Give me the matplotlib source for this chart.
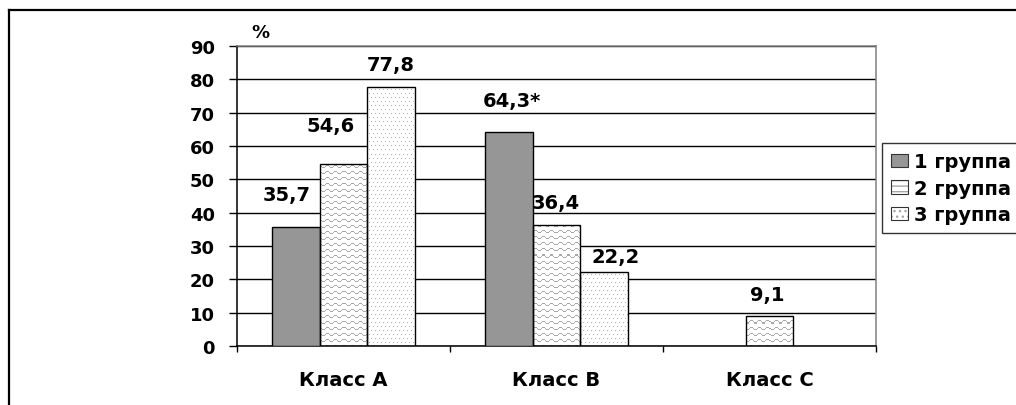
import numpy as np
import matplotlib
matplotlib.use("Agg")
import matplotlib.pyplot as plt
from matplotlib.patches import Patch
from matplotlib.lines import Line2D

# --- data -------------------------------------------------------------
categories = ["Класс A", "Класс B", "Класс C"]
group_names = ["1 группа", "2 группа", "3 группа"]
group1 = [35.7, 64.3, np.nan]
group2 = [54.6, 36.4, 9.1]
group3 = [77.8, 22.2, np.nan]
value_labels = [
    ["35,7", "64,3*", None],
    ["54,6", "36,4", "9,1"],
    ["77,8", "22,2", None],
]
y_ticks = [0, 10, 20, 30, 40, 50, 60, 70, 80, 90]

# label placement (pixel offsets from the top centre of each bar)
label_offsets = [
    [(-9, 32), (3, 31), None],
    [(-13, 38), (-1, 22), (-2, 21)],
    [(0, 22), (11, 16), None],
]

W_PX, H_PX = 1016, 406
DPI = 100
fig = plt.figure(figsize=(W_PX / DPI, H_PX / DPI), dpi=DPI)
plt.rcParams["font.family"] = ["DejaVu Sans"]
plt.rcParams["font.weight"] = "bold"

ax_l, ax_r, ax_t, ax_b = 237, 876, 47, 347
ax = fig.add_axes([ax_l / W_PX, 1 - ax_b / H_PX,
                   (ax_r - ax_l) / W_PX, (ax_b - ax_t) / H_PX])

x = np.arange(len(categories))
width = 0.224
series = [group1, group2, group3]

# pixel-resolution fill textures for the patterned series
Hp, Wp = ax_b - ax_t, ax_r - ax_l
yy, xx = np.mgrid[0:Hp, 0:Wp]
wave = np.ones((Hp, Wp, 3))
phase = np.round(1.1 * np.sin(2 * np.pi * xx / 8)).astype(int)
wave[((yy + phase) % 6) == 0] = 0.66
dots = np.ones((Hp, Wp, 3))
dmask = (yy % 4 == 0) & (((xx + ((yy // 4) % 2) * 2) % 4) == 0)
dots[dmask] = 0.7
textures = [None, wave, dots]

for i, vals in enumerate(series):
    offs = (i - 1) * width
    tex = textures[i]
    face = "#969696" if tex is None else "none"
    bars = ax.bar(x + offs, vals, width, facecolor=face, edgecolor="black",
                  linewidth=1.0, zorder=3)
    if tex is not None:
        for b in bars:
            if np.isnan(b.get_height()):
                continue
            im = ax.imshow(tex, extent=(-0.5, 2.5, 0, 90), aspect="auto",
                           interpolation="nearest", zorder=2.5)
            im.set_clip_path(b)
    for j, v in enumerate(vals):
        lab = value_labels[i][j]
        if lab is None or np.isnan(v):
            continue
        dx, dy = label_offsets[i][j]
        ax.annotate(lab, (x[j] + offs, v), xytext=(dx, dy),
                    textcoords="offset pixels", ha="center", va="center",
                    fontsize=14, fontweight="bold", zorder=5)

ax.set_xlim(-0.5, 2.5)
ax.set_ylim(0, 90)
ax.set_yticks(y_ticks)
ax.set_yticklabels([str(t) for t in y_ticks], fontsize=13, fontweight="bold")
ax.tick_params(axis="y", direction="out", length=5.8, width=1.0, pad=10,
               colors="black")

ax.set_xticks(x)
ax.set_xticklabels(categories, fontsize=14, fontweight="bold")
ax.set_xticks(np.arange(-0.5, 3, 1), minor=True)
ax.tick_params(axis="x", which="major", length=0, pad=17)
ax.tick_params(axis="x", which="minor", direction="out", length=4.3,
               width=1.0)

ax.yaxis.grid(True, color="black", linewidth=1.0)
ax.set_axisbelow(True)
for side in ("left", "bottom"):
    ax.spines[side].set_color("black")
    ax.spines[side].set_linewidth(1.1)
for side in ("top", "right"):
    ax.spines[side].set_color("#808080")
    ax.spines[side].set_linewidth(1.1)

fig.text(260 / W_PX, 1 - 33 / H_PX, "%", ha="center", va="center",
         fontsize=13, fontweight="bold")

# legend
handles = [
    Patch(facecolor="#969696", edgecolor="#333333", linewidth=0.8),
    Patch(facecolor="white", edgecolor="#333333", linewidth=0.8, hatch="---"),
    Patch(facecolor="white", edgecolor="#333333", linewidth=0.8, hatch="..."),
]
leg = fig.legend(handles, group_names, loc="upper left",
                 bbox_to_anchor=(882 / W_PX, 1 - 144 / H_PX),
                 bbox_transform=fig.transFigure, frameon=True, fancybox=False,
                 borderaxespad=0, borderpad=0.48, handlelength=0.88,
                 handleheight=0.67, handletextpad=0.3, labelspacing=0.38,
                 prop={"size": 14, "weight": "bold"})
leg.get_frame().set_edgecolor("black")
leg.get_frame().set_linewidth(1.0)
for p in leg.get_patches()[1:]:
    p._hatch_color = (0.65, 0.65, 0.65, 1.0)

# outer frame (top and left edges)
y_top = 1 - 11 / H_PX
x_left = 9 / W_PX
fig.add_artist(Line2D([x_left, 1], [y_top, y_top], transform=fig.transFigure,
                      color="black", linewidth=1.6))
fig.add_artist(Line2D([x_left, x_left], [0, y_top], transform=fig.transFigure,
                      color="black", linewidth=1.6))

fig.savefig("out.png", dpi=DPI)
